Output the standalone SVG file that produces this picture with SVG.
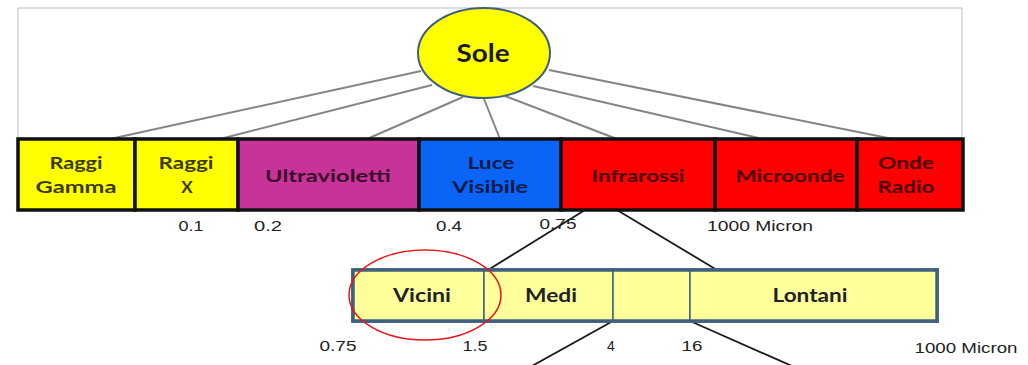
<svg xmlns="http://www.w3.org/2000/svg" width="1028" height="365" viewBox="0 0 1028 365">
<style>
.frame{fill:none;stroke:#c8c8c8;stroke-width:1.2}
.gl{stroke:#858585;stroke-width:2;fill:none}
.bl{stroke:#1a1a1a;stroke-width:1.8;fill:none}
.cell{stroke:#111;stroke-width:3.5}
.lb{font-family:Lato,"Liberation Sans",sans-serif;font-weight:bold;font-size:17px;text-anchor:middle}
.sub{fill:#ffff9c;stroke:#40607f;stroke-width:1.5}
.sl{font-family:Lato,"Liberation Sans",sans-serif;font-weight:bold;font-size:18px;text-anchor:middle;fill:#222}
.num{font-family:"Liberation Sans",sans-serif;font-size:14px;text-anchor:middle;fill:#222}
</style>
<rect class="frame" x="18" y="8" width="944" height="130"/>
<g id="connectors">
<line class="gl" x1="421" y1="71" x2="110" y2="139"/>
<line class="gl" x1="432" y1="85" x2="220" y2="139"/>
<line class="gl" x1="463" y1="97" x2="367" y2="139"/>
<line class="gl" x1="484" y1="99" x2="500" y2="139"/>
<line class="gl" x1="505" y1="96" x2="617" y2="139"/>
<line class="gl" x1="533" y1="86" x2="763" y2="139"/>
<line class="gl" x1="549" y1="70" x2="893" y2="139"/>
<line class="bl" x1="585" y1="210" x2="488" y2="270"/>
<line class="bl" x1="617" y1="210" x2="717" y2="270"/>
<line class="bl" x1="613" y1="321" x2="532" y2="366"/>
<line class="bl" x1="690" y1="321" x2="792" y2="366"/>
</g>
<g id="sole">
<ellipse cx="484" cy="53" rx="66" ry="45" fill="#ffff00" stroke="#3f5f7e" stroke-width="2"/>
<text x="483" y="62" font-family="Lato,'Liberation Sans',sans-serif" font-weight="bold" font-size="24" text-anchor="middle" fill="#1a1a1a" textLength="53" lengthAdjust="spacingAndGlyphs">Sole</text>
</g>
<g id="raggi-gamma">
<rect class="cell" x="18" y="139" width="117" height="71" fill="#ffff00"/>
<text class="lb" x="76" y="169" fill="#3a3a10" textLength="53" lengthAdjust="spacingAndGlyphs">Raggi</text>
<text class="lb" x="76" y="193" fill="#3a3a10" textLength="81" lengthAdjust="spacingAndGlyphs">Gamma</text>
</g>
<g id="raggi-x">
<rect class="cell" x="135" y="139" width="103" height="71" fill="#ffff00"/>
<text class="lb" x="186" y="169" fill="#3a3a10" textLength="55" lengthAdjust="spacingAndGlyphs">Raggi</text>
<text class="lb" x="187" y="193" fill="#3a3a10">X</text>
</g>
<g id="ultravioletti">
<rect class="cell" x="238" y="139" width="181" height="71" fill="#c8339a"/>
<text class="lb" x="328" y="182" fill="#3a0a2a" textLength="126" lengthAdjust="spacingAndGlyphs">Ultravioletti</text>
</g>
<g id="luce-visibile">
<rect class="cell" x="419" y="139" width="142" height="71" fill="#0a64f5"/>
<text class="lb" x="491" y="169" fill="#0a1a4a" textLength="47" lengthAdjust="spacingAndGlyphs">Luce</text>
<text class="lb" x="490" y="193" fill="#0a1a4a" textLength="76" lengthAdjust="spacingAndGlyphs">Visibile</text>
</g>
<g id="infrarossi">
<rect class="cell" x="561" y="139" width="154" height="71" fill="#ff0000"/>
<text class="lb" x="638" y="182" fill="#4a0000" textLength="93" lengthAdjust="spacingAndGlyphs">Infrarossi</text>
</g>
<g id="microonde">
<rect class="cell" x="715" y="139" width="142" height="71" fill="#ff0000"/>
<text class="lb" x="790" y="182" fill="#4a0000" textLength="109" lengthAdjust="spacingAndGlyphs">Microonde</text>
</g>
<g id="onde-radio">
<rect class="cell" x="857" y="139" width="106" height="71" fill="#ff0000"/>
<text class="lb" x="906" y="169" fill="#4a0000" textLength="56" lengthAdjust="spacingAndGlyphs">Onde</text>
<text class="lb" x="906" y="193" fill="#4a0000" textLength="57" lengthAdjust="spacingAndGlyphs">Radio</text>
</g>
<g id="scala-alta">
<text class="num" x="191" y="231" textLength="25" lengthAdjust="spacingAndGlyphs">0.1</text>
<text class="num" x="268" y="231" textLength="28" lengthAdjust="spacingAndGlyphs">0.2</text>
<text class="num" x="449" y="231" textLength="26" lengthAdjust="spacingAndGlyphs">0.4</text>
<text class="num" x="558" y="229" textLength="37" lengthAdjust="spacingAndGlyphs">0.75</text>
<text class="num" x="760" y="231" textLength="106" lengthAdjust="spacingAndGlyphs">1000 Micron</text>
</g>
<rect x="353" y="270" width="584" height="51" fill="#ffff9c" stroke="#40607f" stroke-width="3.5"/>
<g id="vicini">
<rect class="sub" x="353" y="270" width="131" height="51"/>
<text class="sl" x="422" y="302" textLength="58" lengthAdjust="spacingAndGlyphs">Vicini</text>
</g>
<g id="medi">
<rect class="sub" x="484" y="270" width="129" height="51"/>
<text class="sl" x="551" y="302" textLength="52" lengthAdjust="spacingAndGlyphs">Medi</text>
</g>
<g id="intermedio">
<rect class="sub" x="613" y="270" width="77" height="51"/>
</g>
<g id="lontani">
<rect class="sub" x="690" y="270" width="247" height="51"/>
<text class="sl" x="810" y="302" textLength="75" lengthAdjust="spacingAndGlyphs">Lontani</text>
</g>
<rect x="353" y="270" width="584" height="51" fill="none" stroke="#40607f" stroke-width="3.5"/>
<ellipse id="evidenziazione" cx="425" cy="295" rx="76" ry="45" fill="none" stroke="#e8141a" stroke-width="1.5"/>
<g id="scala-bassa">
<text class="num" x="338" y="351" textLength="37" lengthAdjust="spacingAndGlyphs">0.75</text>
<text class="num" x="475" y="351" textLength="25" lengthAdjust="spacingAndGlyphs">1.5</text>
<text class="num" x="611" y="351">4</text>
<text class="num" x="692" y="351" textLength="21" lengthAdjust="spacingAndGlyphs">16</text>
<text class="num" x="966" y="353" textLength="103" lengthAdjust="spacingAndGlyphs">1000 Micron</text>
</g>
</svg>
